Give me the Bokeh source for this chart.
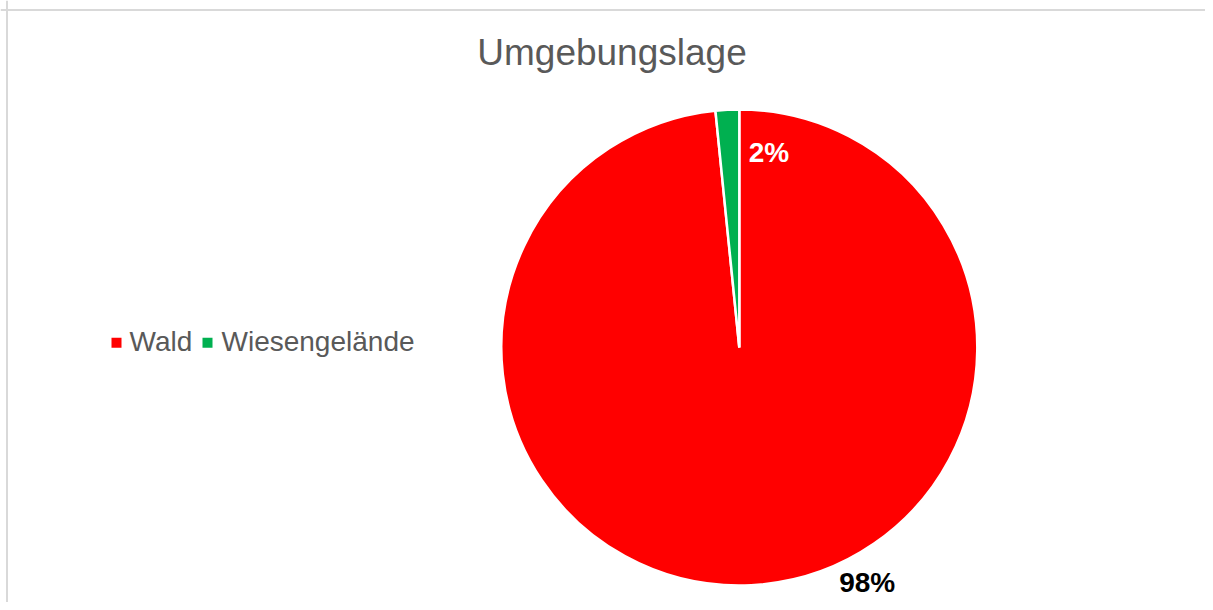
import numpy as np
from bokeh.plotting import figure
from bokeh.models import Range1d, Span, ColumnDataSource, Label
from bokeh.core.properties import value
from bokeh.embed import file_html
from bokeh.resources import INLINE

# ---- data ----
categories = ["Wald", "Wiesengelände"]
shares = [98.4, 1.6]
colors = ["#FF0000", "#00B050"]
label_colors = ["#000000", "#FFFFFF"]
title_text = "Umgebungslage"

# ---- layout constants (image pixel coordinates) ----
W, H = 1205, 602
def py(y):  # image y -> data y
    return H - y

cx, cy, r = 738.8, py(347), 238
label_pos = [(866.7, py(582)), (768.5, py(152))]   # 98%, 2%
legend_sq_x = [116, 207]
legend_txt_x = [129, 221]
legend_y = py(342.3)
legend_base = py(341)

FONT = "Liberation Sans"

p = figure(width=W, height=H, output_backend="svg", toolbar_location=None,
           x_range=Range1d(0, W), y_range=Range1d(0, H),
           min_border=0, outline_line_color=None, background_fill_color="white",
           border_fill_color="white")
p.axis.visible = False
p.grid.visible = False

# pie (Excel style: start at 12 o'clock, clockwise)
frac = np.array(shares) / sum(shares)
cum = np.concatenate([[0], np.cumsum(frac)])
start = np.pi / 2 - 2 * np.pi * cum[:-1]
end = np.pi / 2 - 2 * np.pi * cum[1:]
src = ColumnDataSource(dict(cat=categories, start=start, end=end, color=colors))
p.wedge(x=cx, y=cy, radius=r, start_angle="start", end_angle="end",
        direction="clock", fill_color="color", line_color="white",
        line_width=2.5, source=src)

# data labels
pct = [f"{round(s / sum(shares) * 100):.0f}%" for s in shares]
lsrc = ColumnDataSource(dict(x=[q[0] for q in label_pos], y=[q[1] for q in label_pos],
                             t=pct, c=label_colors))
p.text(x="x", y="y", text="t", text_color="c", source=lsrc,
       text_font=value(FONT), text_font_size="28px", text_font_style="bold",
       text_align="center", text_baseline="alphabetic")

# title
p.add_layout(Label(x=611.5, y=py(52), text=title_text, text_font=FONT,
                   text_font_size="37px", text_color="#595959",
                   text_align="center", text_baseline="alphabetic"))

# legend (manual)
p.scatter(x=legend_sq_x, y=[legend_y] * 2, marker="square", size=10,
          fill_color=colors, line_color=None)
p.text(x=legend_txt_x, y=[legend_base] * 2, text=categories,
       text_font=value(FONT), text_font_size="28px", text_color="#595959",
       text_align="left", text_baseline="alphabetic")

# chart border
p.add_layout(Span(location=py(9.5), dimension="width", line_color="#d9d9d9", line_width=2))
p.add_layout(Span(location=6.5, dimension="height", line_color="#d9d9d9", line_width=2))

open("out.html", "w").write(file_html(p, INLINE))
